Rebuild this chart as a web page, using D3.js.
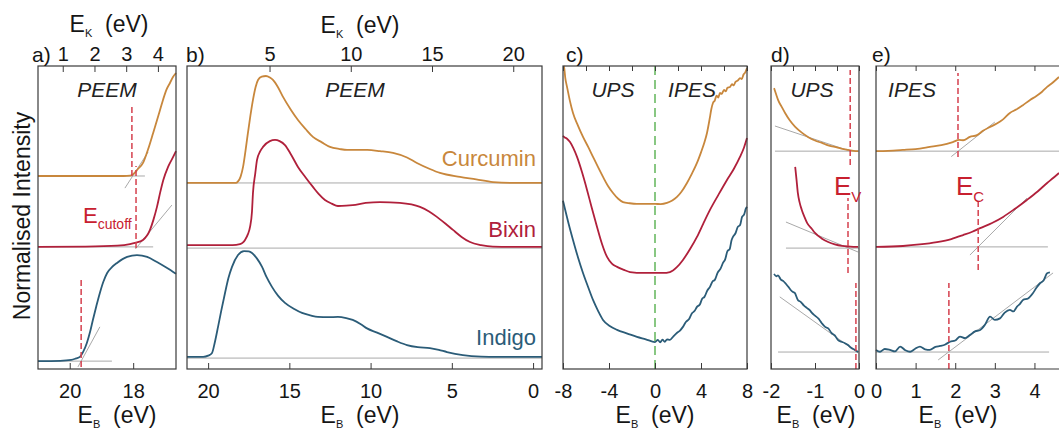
<!DOCTYPE html>
<html>
<head>
<meta charset="utf-8">
<script src="https://cdn.jsdelivr.net/npm/d3@7"></script>
<style>
body { margin: 0; background: #fff; }
text { font-family: "Liberation Sans", Arial, Helvetica, sans-serif; fill: #151515; }
</style>
</head>
<body>
<svg id="chart" width="1059" height="433"></svg>
<script>
// ---- data: [E_B (eV), normalised intensity (offset, %)] ----
var aCurcumin = [[21.0,63.7],[19.5,63.7],[18.3,63.7],[18.1,63.8],[18.0,64.3],[17.85,66.0],[17.69,68.0],[17.53,72.5],[17.37,77.9],[17.2,83.8],[17.06,88.8],[16.95,92.2],[16.84,94.4],[16.75,96.3],[16.65,97.7]];
var aBixin = [[21.0,40.3],[19.5,40.4],[18.5,40.7],[18.1,41.2],[17.94,41.6],[17.69,42.6],[17.47,45.9],[17.36,49.3],[17.25,53.5],[17.15,58.2],[17.05,62.4],[16.9,66.7],[16.74,70.0],[16.65,71.9]];
var aIndigo = [[21.0,2.6],[20.3,2.7],[19.95,3.0],[19.8,3.5],[19.68,4.0],[19.57,5.8],[19.46,8.6],[19.36,12.2],[19.27,16.2],[19.16,20.8],[19.05,25.1],[18.94,28.8],[18.82,31.7],[18.67,33.6],[18.51,35.0],[18.19,37.0],[17.88,37.6],[17.56,37.0],[17.25,35.3],[16.93,33.3],[16.65,31.4]];
var aBase = [[21.0,17.63,63.7],[21.0,17.37,40.3],[21.0,18.67,2.6]];
var aTangent = [[18.26,59.7,17.53,71.6],[17.93,39.6,16.78,54.1],[19.74,0.7,19.05,13.9]];
var aMark = [[18.04,63.7,86.5],[17.91,39.9,67.0],[19.64,0.7,30.0]];

var bCurcumin = [[21.3,61.4],[18.3,61.4],[18.16,61.9],[18.0,63.5],[17.85,66.7],[17.7,72.0],[17.55,77.9],[17.4,83.5],[17.24,88.8],[17.08,93.0],[16.93,95.4],[16.7,96.5],[16.44,96.7],[16.2,96.2],[16.01,95.4],[15.7,93.0],[15.39,89.8],[14.9,85.5],[14.47,82.2],[14.0,79.2],[13.55,76.6],[13.0,74.8],[12.5,73.3],[11.9,72.6],[11.45,72.3],[10.8,72.3],[10.2,72.3],[9.42,71.9],[8.62,71.3],[7.76,69.8],[7.15,68.0],[6.35,66.0],[5.73,64.7],[4.5,63.4],[3.5,62.6],[2.47,61.7],[1.24,61.4],[-0.55,61.4]];
var bBixin = [[21.3,40.9],[18.5,40.9],[18.04,41.2],[17.85,41.8],[17.73,42.6],[17.55,44.5],[17.42,46.9],[17.3,52.0],[17.24,58.1],[17.1,64.5],[16.99,69.0],[16.8,71.8],[16.62,73.3],[16.2,75.2],[15.88,75.6],[15.6,75.2],[15.27,73.9],[14.9,70.8],[14.47,66.7],[14.0,63.2],[13.55,60.1],[13.2,57.8],[12.81,55.8],[12.4,54.6],[12.01,53.8],[11.5,53.9],[11.1,54.1],[10.3,54.8],[9.42,55.1],[8.2,54.8],[6.96,53.5],[6.4,52.0],[5.92,50.2],[5.4,48.0],[4.93,45.9],[4.4,43.6],[3.88,41.9],[3.2,40.9],[2.47,40.4],[1.2,40.3],[-0.55,40.3]];
var bIndigo = [[21.3,4.0],[20.3,4.0],[20.0,4.4],[19.76,5.3],[19.6,8.5],[19.39,13.9],[19.2,19.0],[18.96,25.1],[18.75,30.0],[18.53,33.7],[18.16,37.6],[17.79,38.9],[17.5,38.8],[17.3,38.3],[17.0,36.5],[16.68,33.7],[16.4,30.3],[16.07,27.1],[15.7,24.2],[15.27,21.8],[14.7,19.8],[14.22,18.5],[13.7,17.7],[13.24,17.2],[12.6,17.1],[12.01,17.2],[11.5,16.8],[11.1,16.2],[10.6,14.8],[10.22,13.4],[9.6,12.0],[8.99,10.6],[8.4,9.2],[7.76,7.9],[7.1,7.2],[6.35,6.9],[5.8,6.3],[5.3,5.6],[4.32,4.6],[3.2,4.1],[2.22,4.0],[-0.55,4.0]];
var bBase = [[21.3,-0.55,61.4],[21.3,-0.55,39.9],[21.3,-0.55,3.6]];

var cCurcumin = [[-7.95,100],[-7.91,99.7],[-7.8,96.0],[-7.65,93.1],[-7.4,88.5],[-7.13,84.5],[-6.7,80.3],[-6.26,76.6],[-5.8,73.2],[-5.39,70.0],[-4.95,66.6],[-4.52,63.4],[-4.1,60.5],[-3.65,58.1],[-3.2,56.2],[-2.78,55.1],[-2.2,54.7],[-1.57,54.5],[-0.8,54.5],[0,54.5],[0.5,54.4],[1.04,54.8],[1.5,55.6],[1.91,56.8],[2.3,58.5],[2.78,61.4],[3.2,64.4],[3.65,68.0],[4.0,71.5],[4.3,74.8],[4.52,77.9],[4.75,82.5],[4.9,85.8],[5.04,87.8],[5.2,88.6],[5.35,90.2],[5.5,89.6],[5.65,91.1],[5.8,90.8],[6.0,92.1],[6.15,91.6],[6.3,92.8],[6.52,93.1],[6.7,94.0],[6.85,93.6],[7.0,94.8],[7.2,95.2],[7.39,96.0],[7.55,95.7],[7.7,97.2],[7.85,97.9],[8.0,99.3]];
var cBixin = [[-8,77.0],[-7.91,76.6],[-7.65,76.0],[-7.39,74.9],[-7.1,72.9],[-6.78,70.0],[-6.35,65.0],[-5.91,59.1],[-5.5,53.2],[-5.04,46.9],[-4.6,41.2],[-4.17,37.0],[-3.75,34.8],[-3.3,33.7],[-2.7,32.7],[-2.17,32.0],[-1.0,31.7],[0,31.7],[0.7,31.7],[1.3,32.0],[1.9,33.6],[2.43,36.0],[3.05,39.6],[3.65,43.6],[4.2,48.0],[4.78,52.5],[5.5,57.4],[6.26,62.4],[6.85,66.0],[7.39,70.0],[7.75,73.2],[8.0,76.2]];
var cIndigo = [[-8,55.5],[-7.91,54.1],[-7.5,47.8],[-7.13,42.6],[-6.7,36.9],[-6.26,31.7],[-5.8,26.9],[-5.39,22.8],[-4.95,19.2],[-4.52,16.2],[-3.9,14.1],[-3.3,12.9],[-2.4,11.7],[-1.57,10.6],[-0.8,9.8],[0,8.9],[0.25,9.6],[0.45,8.8],[0.65,9.7],[0.85,9.0],[1.05,9.8],[1.3,9.6],[1.6,10.8],[1.9,11.9],[2.15,12.6],[2.43,13.9],[2.7,15.6],[2.95,16.4],[3.2,18.3],[3.45,19.2],[3.65,20.5],[3.9,21.3],[4.1,23.2],[4.3,23.8],[4.55,25.9],[4.78,27.1],[5.0,28.9],[5.2,29.4],[5.45,31.8],[5.7,33.1],[5.91,35.0],[6.1,36.2],[6.3,38.9],[6.5,39.6],[6.65,42.4],[6.78,43.6],[7.0,44.8],[7.2,46.9],[7.4,47.5],[7.57,50.2],[7.75,51.0],[7.9,52.9],[8.0,53.5]];
var cMark = [[0,0,100]];

var dCurcumin = [[-1.93,92.7],[-1.88,90.5],[-1.84,88.8],[-1.76,86.6],[-1.68,84.5],[-1.57,82.0],[-1.45,79.9],[-1.3,78.0],[-1.16,76.6],[-1.0,75.4],[-0.84,74.6],[-0.7,73.8],[-0.55,73.3],[-0.4,72.7],[-0.25,72.3],[-0.12,72.0],[-0.02,71.9]];
var dBixin = [[-1.45,66.7],[-1.42,62.5],[-1.39,58.1],[-1.35,55.0],[-1.3,52.5],[-1.24,50.2],[-1.18,48.2],[-1.07,46.2],[-1.0,44.9],[-0.85,43.1],[-0.7,41.9],[-0.55,41.1],[-0.39,40.6],[-0.2,40.4],[-0.02,40.3]];
var dIndigo = [[-1.93,31.4],[-1.88,30.6],[-1.84,30.9],[-1.78,29.6],[-1.72,29.0],[-1.68,28.4],[-1.6,27.0],[-1.52,25.6],[-1.46,25.1],[-1.39,22.8],[-1.32,22.1],[-1.25,20.9],[-1.18,20.1],[-1.12,19.4],[-1.07,18.5],[-1.0,17.6],[-0.92,16.6],[-0.85,15.2],[-0.77,13.9],[-0.7,13.4],[-0.62,11.8],[-0.55,11.1],[-0.48,9.6],[-0.4,9.0],[-0.33,8.6],[-0.25,7.9],[-0.18,7.0],[-0.09,6.3],[-0.02,5.6]];
var dBase = [[-1.91,0,71.9],[-1.66,0,39.9],[-1.84,0,5.6]];
var dTangent = [[-1.91,80.2,-0.2,71.9],[-1.66,48.5,-0.02,38.6],[-1.8,23.8,-0.02,5.3]];
var dMark = [[-0.2,67.3,98.7],[-0.25,31.7,56.4],[-0.07,0,28.4]];

var eCurcumin = [[0,71.9],[0.3,72.0],[0.68,72.3],[1.0,72.6],[1.36,73.3],[1.65,73.9],[1.94,74.9],[2.1,75.6],[2.2,75.5],[2.37,76.6],[2.55,77.2],[2.7,78.6],[2.88,79.9],[3.05,81.0],[3.2,82.3],[3.38,84.5],[3.55,85.7],[3.7,87.0],[3.89,88.8],[4.05,90.1],[4.2,91.6],[4.32,93.1],[4.45,94.4],[4.62,96.4]];
var eBixin = [[0,40.3],[0.68,40.6],[1.1,41.1],[1.54,41.9],[1.9,42.9],[2.2,44.2],[2.43,45.3],[2.63,46.5],[2.93,48.2],[3.21,50.2],[3.5,52.8],[3.81,55.8],[4.08,58.6],[4.32,61.4],[4.48,63.1],[4.62,64.7]];
var eIndigo = [[0,6.3],[0.1,5.7],[0.22,6.6],[0.35,6.3],[0.48,5.8],[0.61,7.4],[0.74,6.2],[0.86,5.7],[0.98,6.6],[1.11,7.4],[1.24,6.5],[1.36,6.3],[1.5,7.3],[1.62,7.6],[1.75,8.1],[1.87,9.0],[2.0,9.4],[2.12,10.7],[2.25,10.2],[2.37,11.2],[2.5,12.4],[2.63,12.9],[2.75,14.6],[2.88,17.3],[3.0,16.2],[3.13,16.7],[3.25,18.6],[3.38,19.5],[3.47,19.0],[3.56,20.6],[3.63,21.4],[3.71,22.8],[3.84,23.3],[3.96,25.0],[4.05,26.8],[4.14,28.3],[4.23,29.2],[4.32,31.6],[4.39,31.9]];
var eBase = [[0,4.62,71.9],[0,4.34,40.3],[0,4.37,5.6]];
var eTangent = [[1.9,70.1,3.0,81.5],[2.37,37.6,3.81,56.4],[1.57,3.0,4.47,31.7]];
var eMark = [[2.07,70.0,97.7],[2.58,32.7,55.8],[1.84,0,28.4]];

var hv = 21.22; // E_K = hv - E_B

var colCur = "#c8873c", colBix = "#b0203b", colInd = "#2b5c78";
var red = "#d5404e", gray = "#a9a9a9";
var TOP = 66, BOT = 369;

var svg = d3.select("#chart");
var y = d3.scaleLinear().domain([0, 100]).range([BOT, TOP]);

var panels = [
  {x0: 38, x1: 176, dom: [21.0, 16.65],
   major: [20, 18], minor: [20.5, 19.5, 19, 18.5, 17.5, 17], labels: [20, 18],
   top: {major: [1, 2, 3, 4], minor: [0.5, 1.5, 2.5, 3.5, 4.5]},
   series: [aCurcumin, aBixin, aIndigo], base: aBase, tan: aTangent, mark: aMark, markCol: red},
  {x0: 187, x1: 542, dom: [21.3, -0.55],
   major: [20, 15, 10, 5, 0], minor: d3.range(1, 22).filter(function(d){ return d % 5; }), labels: [20, 15, 10, 5, 0],
   top: {major: [5, 10, 15, 20], minor: d3.range(1, 22).filter(function(d){ return d % 5; })},
   series: [bCurcumin, bBixin, bIndigo], base: bBase, tan: [], mark: [], markCol: red},
  {x0: 563, x1: 747, dom: [-8, 8],
   major: [-8, -4, 0, 4, 8], minor: [-6, -2, 2, 6], labels: [-8, -4, 0, 4, 8],
   series: [cCurcumin, cBixin, cIndigo], base: [], tan: [], mark: cMark, markCol: "#62b55a"},
  {x0: 771, x1: 859, dom: [-2, 0],
   major: [-2, -1, 0], minor: [-1.5, -0.5], labels: [-2, -1, 0],
   series: [dCurcumin, dBixin, dIndigo], base: dBase, tan: dTangent, mark: dMark, markCol: red},
  {x0: 876, x1: 1059, dom: [0, 4.62], open: true,
   major: [0, 1, 2, 3, 4], minor: [], labels: [0, 1, 2, 3, 4],
   series: [eCurcumin, eBixin, eIndigo], base: eBase, tan: eTangent, mark: eMark, markCol: red}
];

var cols = [colCur, colBix, colInd];

panels.forEach(function(p, i) {
  var x = d3.scaleLinear().domain(p.dom).range([p.x0, p.x1]);
  var g = svg.append("g");

  g.selectAll(".base").data(p.base).enter().append("line")
    .attr("x1", function(d){ return x(d[0]); }).attr("x2", function(d){ return x(d[1]); })
    .attr("y1", function(d){ return y(d[2]); }).attr("y2", function(d){ return y(d[2]); })
    .attr("stroke", gray).attr("stroke-width", 1);

  g.selectAll(".tan").data(p.tan).enter().append("line")
    .attr("x1", function(d){ return x(d[0]); }).attr("y1", function(d){ return y(d[1]); })
    .attr("x2", function(d){ return x(d[2]); }).attr("y2", function(d){ return y(d[3]); })
    .attr("stroke", gray).attr("stroke-width", 1);

  var line = d3.line()
    .x(function(d){ return x(d[0]); })
    .y(function(d){ return y(d[1]); })
    .curve(d3.curveMonotoneX);

  p.series.forEach(function(s, k) {
    g.append("path").attr("d", line(s))
      .attr("fill", "none").attr("stroke", cols[k]).attr("stroke-width", 1.8);
  });

  g.selectAll(".mark").data(p.mark).enter().append("line")
    .attr("x1", function(d){ return x(d[0]); }).attr("x2", function(d){ return x(d[0]); })
    .attr("y1", function(d){ return y(d[1]); }).attr("y2", function(d){ return y(d[2]); })
    .attr("stroke", p.markCol).attr("stroke-width", 1.5)
    .attr("stroke-dasharray", i == 2 ? "9,5" : "6,3");

  // frame
  if (p.open) {
    g.append("path").attr("d", "M" + p.x1 + "," + TOP + "H" + p.x0 + "V" + BOT + "H" + p.x1)
      .attr("fill", "none").attr("stroke", "#3a3a3a").attr("stroke-width", 1.2);
  } else {
    g.append("rect").attr("x", p.x0).attr("y", TOP).attr("width", p.x1 - p.x0).attr("height", BOT - TOP)
      .attr("fill", "none").attr("stroke", "#3a3a3a").attr("stroke-width", 1.2);
  }

  // bottom axis, ticks pointing in
  var bot = g.append("g").attr("transform", "translate(0," + BOT + ")");
  bot.call(d3.axisBottom(x).tickValues(p.minor).tickSize(-3).tickFormat(""));
  bot.call(d3.axisBottom(x).tickValues(p.major).tickSize(-6).tickPadding(15)
    .tickFormat(function(d){ return p.labels.indexOf(d) >= 0 ? d : ""; }));
  bot.selectAll(".domain").remove();

  // top ticks: kinetic energy scale for a,b, mirror ticks otherwise
  var topG = g.append("g").attr("transform", "translate(0," + TOP + ")");
  if (p.top) {
    var xk = d3.scaleLinear().domain([hv - p.dom[0], hv - p.dom[1]]).range([p.x0, p.x1]);
    topG.call(d3.axisTop(xk).tickValues(p.top.minor).tickSize(-3).tickFormat(""));
    topG.call(d3.axisTop(xk).tickValues(p.top.major).tickSize(-6).tickPadding(5).tickFormat(d3.format("d")));
  } else {
    topG.call(d3.axisTop(x).tickValues(p.major.concat(p.minor)).tickSize(-5).tickFormat(""));
  }
  topG.selectAll(".domain").remove();
  g.selectAll(".tick line").attr("stroke", "#3a3a3a");
  g.selectAll(".tick text").style("font-size", "20px").attr("fill", "#151515");
});

// ---- text ----
function subLabel(x, yy, main, sub, size, subSize, color, anchor) {
  var t = svg.append("text").attr("x", x).attr("y", yy).attr("text-anchor", anchor || "start")
    .style("font-size", size + "px").style("fill", color || "#151515");
  t.append("tspan").text(main);
  t.append("tspan").text(sub).style("font-size", subSize + "px").attr("dy", subSize * 0.45);
  return t;
}

function axisTitle(cx, yy, sub) {
  var t = svg.append("text").attr("x", cx).attr("y", yy).attr("text-anchor", "middle")
    .style("font-size", "23px");
  t.append("tspan").text("E");
  t.append("tspan").text(sub).style("font-size", "11px").attr("dy", 5);
  t.append("tspan").text("\u00a0\u00a0(eV)").attr("dy", -5);
}

[117, 360, 655, 816, 958].forEach(function(cx){ axisTitle(cx, 423, "B"); });
axisTitle(109, 32, "K");
axisTitle(360, 33, "K");

[["a)", 32], ["b)", 186], ["c)", 566], ["d)", 771], ["e)", 872]].forEach(function(d) {
  svg.append("text").attr("x", d[1]).attr("y", 62).text(d[0]).style("font-size", "21px");
});

svg.append("text").attr("transform", "translate(30,216) rotate(-90)")
  .attr("text-anchor", "middle").style("font-size", "23px").text("Normalised Intensity");

[["PEEM", 107], ["PEEM", 355], ["UPS", 613], ["IPES", 692], ["UPS", 812], ["IPES", 912]].forEach(function(d) {
  svg.append("text").attr("x", d[1]).attr("y", 97).attr("text-anchor", "middle")
    .style("font-size", "21px").style("font-style", "italic").style("fill", "#222").text(d[0]);
});

[["Curcumin", 166, colCur], ["Bixin", 237, colBix], ["Indigo", 345, colInd]].forEach(function(d) {
  svg.append("text").attr("x", 536).attr("y", d[1]).attr("text-anchor", "end")
    .style("font-size", "22px").style("fill", d[2]).text(d[0]);
});

subLabel(83, 223, "E", "cutoff", 22, 14, "#c8202f");
subLabel(834, 195, "E", "V", 26, 15, "#c8202f");
subLabel(956, 195, "E", "C", 26, 15, "#c8202f");
</script>
</body>
</html>
